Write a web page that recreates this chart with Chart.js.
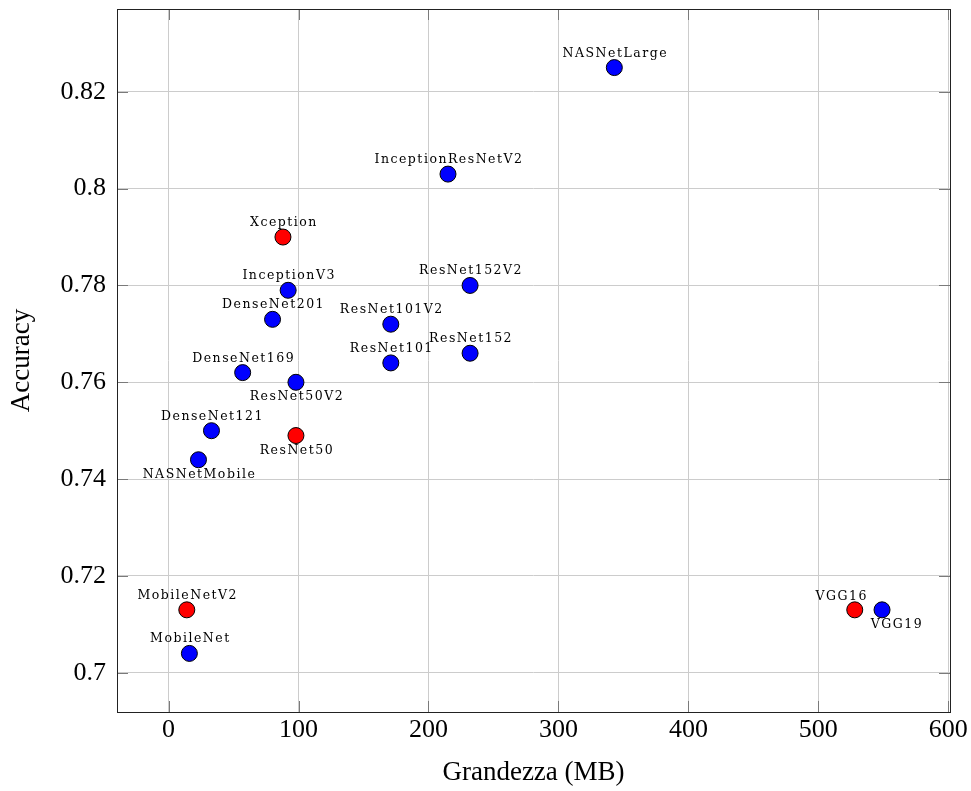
<!DOCTYPE html>
<html>
<head>
<meta charset="utf-8">
<script src="https://cdn.jsdelivr.net/npm/chart.js@4.4.1/dist/chart.umd.min.js"></script>
<style>
    html, body { margin: 0; padding: 0; background: #fff; }
    #wrap { width: 971px; height: 791px; }
</style>
</head>
<body>
<div id="wrap"><canvas id="grafico" width="971" height="791"></canvas></div>
<script>
// Dati: modelli, grandezza (MB), accuracy
const models = ['Xception', 'VGG16', 'VGG19', 'ResNet50', 'ResNet101', 'ResNet152',
    'ResNet50V2', 'ResNet101V2', 'ResNet152V2', 'InceptionV3', 'InceptionResNetV2',
    'MobileNet', 'MobileNetV2', 'DenseNet121', 'DenseNet169', 'DenseNet201',
    'NASNetMobile', 'NASNetLarge'];
const sizeMB = [88, 528, 549, 98, 171, 232, 98, 171, 232, 92, 215, 16, 14, 33, 57, 80, 23, 343];
const accuracy = [0.790, 0.713, 0.713, 0.749, 0.764, 0.766, 0.760, 0.772, 0.780, 0.779, 0.803,
    0.704, 0.713, 0.750, 0.762, 0.773, 0.744, 0.825];
const highlighted = [true, true, false, true, false, false, false, false, false, false, false,
    false, true, false, false, false, false, false]; // punti rossi
const labelPlace = ['above', 'above-left', 'below-right', 'below', 'above', 'above',
    'below', 'above', 'above', 'above', 'above', 'above', 'above', 'above', 'above', 'above',
    'below', 'above'];
const xTicks = [0, 100, 200, 300, 400, 500, 600];
const yTicks = [0.70, 0.72, 0.74, 0.76, 0.78, 0.80, 0.82];

const tickFont = { family: '"Liberation Serif", serif', size: 26 };
const titleFont = { family: '"Liberation Serif", serif', size: 27, lineHeight: 1.2 };

// Etichette dei punti
const etichette = {
    id: 'etichette',
    afterDatasetsDraw(chart) {
        const ctx = chart.ctx;
        const meta = chart.getDatasetMeta(0);
        ctx.save();
        ctx.font = '12.5px "DejaVu Serif", serif';
        ctx.letterSpacing = '1.5px';
        ctx.fillStyle = '#000';
        ctx.textAlign = 'center';
        ctx.textBaseline = 'alphabetic';
        meta.data.forEach((pt, i) => {
            let dx = 1, dy = -11;
            const p = labelPlace[i];
            if (p === 'below') dy = 18;
            if (p === 'above-left') { dx = -13; dy = -10; }
            if (p === 'below-right') { dx = 15; dy = 18; }
            ctx.fillText(models[i], pt.x + dx, pt.y + dy);
        });
        ctx.restore();
    }
};

// Cornice e tacche interne (stile pgfplots)
const cornice = {
    id: 'cornice',
    beforeDatasetsDraw(chart) {
        const { ctx, chartArea: a, scales } = chart;
        const len = 11;
        ctx.save();
        ctx.strokeStyle = '#7a7a7a';
        ctx.lineWidth = 1;
        ctx.beginPath();
        xTicks.forEach(v => {
            const x = Math.round(scales.x.getPixelForValue(v)) + 0.5;
            ctx.moveTo(x, a.bottom); ctx.lineTo(x, a.bottom - len);
            ctx.moveTo(x, a.top); ctx.lineTo(x, a.top + len);
        });
        yTicks.forEach(v => {
            const y = Math.round(scales.y.getPixelForValue(v)) + 0.5;
            ctx.moveTo(a.left, y); ctx.lineTo(a.left + len, y);
            ctx.moveTo(a.right, y); ctx.lineTo(a.right - len, y);
        });
        ctx.stroke();
        ctx.strokeStyle = '#222';
        ctx.strokeRect(Math.round(a.left) + 0.5, Math.round(a.top) + 0.5,
            Math.round(a.right - a.left), Math.round(a.bottom - a.top));
        ctx.restore();
    }
};

function noPadding(scale) {
    scale.paddingTop = 0; scale.paddingBottom = 0;
    scale.paddingLeft = 0; scale.paddingRight = 0;
}

const ctx = document.getElementById('grafico').getContext('2d');
new Chart(ctx, {
    type: 'scatter',
    data: {
        datasets: [{
            label: 'Accuracy',
            data: models.map((m, i) => ({ x: sizeMB[i], y: accuracy[i] })),
            backgroundColor: highlighted.map(h => h ? '#ff0000' : '#0000ff'),
            borderColor: '#000',
            borderWidth: 1,
            pointRadius: 8,
            pointHoverRadius: 8
        }]
    },
    options: {
        responsive: false,
        animation: false,
        layout: { padding: { left: 0, right: 21, top: 9, bottom: 0 } },
        plugins: {
            legend: { display: false },
            tooltip: { enabled: false }
        },
        scales: {
            x: {
                type: 'linear',
                min: -39.7,
                max: 601.3,
                afterBuildTicks: s => { s.ticks = xTicks.map(v => ({ value: v })); },
                afterFit: s => { s.height = 79; noPadding(s); },
                ticks: { font: tickFont, color: '#000', padding: 3, maxRotation: 0 },
                grid: { color: '#cccccc', lineWidth: 1, drawTicks: false },
                border: { display: false },
                title: { display: true, text: 'Grandezza (MB)', font: titleFont, color: '#000',
                    padding: { top: 0, bottom: 2 } }
            },
            y: {
                type: 'linear',
                min: 0.6919,
                max: 0.8371,
                afterBuildTicks: s => { s.ticks = yTicks.map(v => ({ value: v })); },
                afterFit: s => { s.width = 117; noPadding(s); },
                ticks: { font: tickFont, color: '#000', padding: 11,
                    callback: v => String(+v.toFixed(2)) },
                grid: { color: '#cccccc', lineWidth: 1, drawTicks: false },
                border: { display: false },
                title: { display: true, text: 'Accuracy', font: titleFont, color: '#000',
                    padding: { top: 6, bottom: 0 } }
            }
        }
    },
    plugins: [cornice, etichette]
});
</script>
</body>
</html>
